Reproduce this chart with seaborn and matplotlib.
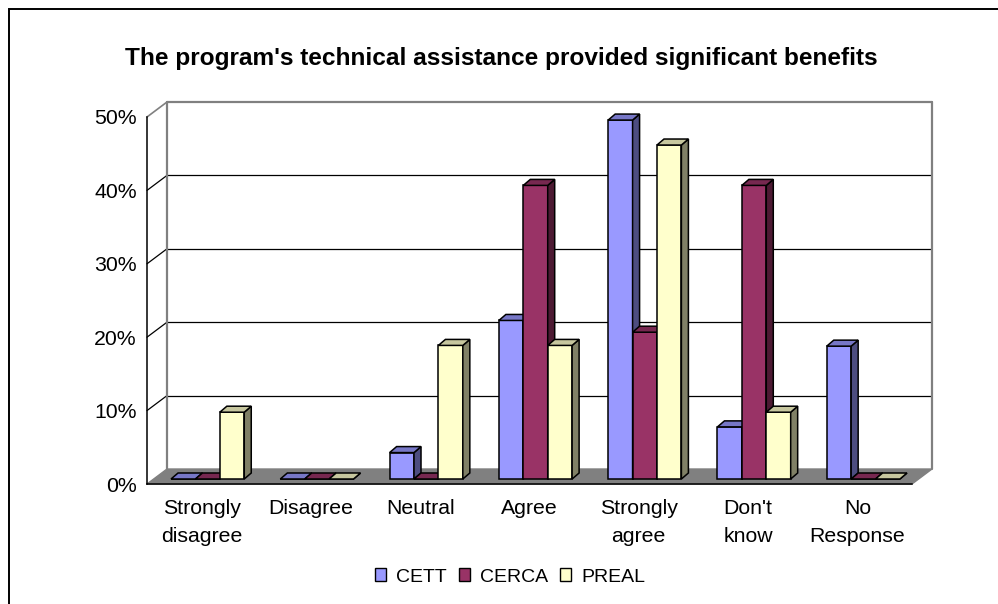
import numpy as np
import pandas as pd
import matplotlib
matplotlib.use("Agg")
import matplotlib.pyplot as plt
import seaborn as sns
from matplotlib.patches import Polygon, Rectangle, Patch
from matplotlib.transforms import offset_copy
from matplotlib.colors import to_rgb

# ---------------- data ----------------
categories = ["Strongly\ndisagree", "Disagree", "Neutral", "Agree",
              "Strongly\nagree", "Don't\nknow", "No\nResponse"]
series_names = ["CETT", "CERCA", "PREAL"]
cett = [0, 0, 3.6, 21.6, 48.9, 7.1, 18.1]
cerca = [0, 0, 0, 40.0, 20.0, 40.0, 0]
preal = [9.1, 0, 18.2, 18.2, 45.5, 9.1, 0]
y_ticks = [0, 10, 20, 30, 40, 50]
y_tick_labels = ["0%", "10%", "20%", "30%", "40%", "50%"]
title = "The program's technical assistance provided significant benefits"
colors = {"CETT": "#9999FF", "CERCA": "#993366", "PREAL": "#FFFFCC"}

df = pd.DataFrame({
    "category": categories * 3,
    "series": sum([[s] * len(categories) for s in series_names], []),
    "value": cett + cerca + preal,
})

# ---------------- figure ----------------
sns.set_style("white")
plt.rcParams["font.family"] = ["Liberation Sans", "DejaVu Sans"]
plt.rcParams["text.color"] = "black"
plt.rcParams["xtick.color"] = "black"
plt.rcParams["ytick.color"] = "black"
plt.rcParams["axes.labelcolor"] = "black"

W, H = 998, 604
fig = plt.figure(figsize=(W / 100, H / 100), dpi=100)
# front plane of the 3D box
L, R, B, T = 147, 912, 484, 117
ax = fig.add_axes([L / W, 1 - B / H, (R - L) / W, (B - T) / H])
ax.set_facecolor("none")

sns.barplot(data=df, x="category", y="value", hue="series", order=categories,
            hue_order=series_names, palette=colors, saturation=1, width=0.67, dodge=True,
            edgecolor="black", linewidth=1.1, legend=False, ax=ax, zorder=10)

ax.set_xlim(-0.5, len(categories) - 0.5)
ax.set_ylim(0, 50)

px_x = (R - L) / len(categories)   # px per category unit
px_y = (B - T) / 50.0              # px per percent

def dx(p):
    return p / px_x

def dy(p):
    return p / px_y

# back wall offset (in px) and bar plane offset
BDX, BDY = 20, 15
bar_tr = offset_copy(ax.transData, fig=fig, x=6, y=5, units="dots")

x_lo, x_hi = -0.5, len(categories) - 0.5
gray = "#808080"

# floor
floor = Polygon([(x_lo, 0), (x_hi, 0), (x_hi + dx(BDX), dy(BDY)), (x_lo + dx(BDX), dy(BDY))],
                closed=True, facecolor=gray, edgecolor=gray, lw=1, zorder=2, clip_on=False)
ax.add_patch(floor)

# back wall gridlines and side wall diagonals
for v in y_ticks[1:-1]:
    ax.plot([x_lo + dx(BDX), x_hi + dx(BDX)], [v + dy(BDY)] * 2, color="black", lw=0.9,
            zorder=3, clip_on=False, solid_capstyle="butt")
    ax.plot([x_lo, x_lo + dx(BDX)], [v, v + dy(BDY)], color="black", lw=0.9,
            zorder=3, clip_on=False)
top = y_ticks[-1]
ax.plot([x_lo + dx(BDX), x_hi + dx(BDX)], [top + dy(BDY)] * 2, color=gray, lw=1.6,
        zorder=3, clip_on=False)
ax.plot([x_lo, x_lo + dx(BDX)], [top, top + dy(BDY)], color=gray, lw=1.2, zorder=3, clip_on=False)
for xx in (x_lo + dx(BDX), x_hi + dx(BDX)):
    ax.plot([xx, xx], [dy(BDY), top + dy(BDY)], color=gray, lw=1.6, zorder=3, clip_on=False)

# 3D bars
bars = sorted([p for p in ax.patches if isinstance(p, Rectangle) and p is not floor],
              key=lambda p: p.get_x())
ddx, ddy = dx(7), dy(6)
for i, p in enumerate(bars):
    x0, w, h = p.get_x(), p.get_width(), p.get_height()
    base = to_rgb(p.get_facecolor())
    z = 10 + 3 * i
    p.set_transform(bar_tr)
    p.set_zorder(z)
    p.set_clip_on(False)
    side = Polygon([(x0 + w, 0), (x0 + w + ddx, ddy), (x0 + w + ddx, h + ddy), (x0 + w, h)],
                   closed=True, facecolor=tuple(np.array(base) * 0.5), edgecolor="black",
                   lw=1.1, transform=bar_tr, zorder=z + 1, clip_on=False)
    topf = Polygon([(x0, h), (x0 + ddx, h + ddy), (x0 + w + ddx, h + ddy), (x0 + w, h)],
                   closed=True, facecolor=tuple(np.array(base) * 0.78), edgecolor="black",
                   lw=1.1, transform=bar_tr, zorder=z + 2, clip_on=False)
    ax.add_patch(side)
    ax.add_patch(topf)

# axes styling
for s in ("top", "right"):
    ax.spines[s].set_visible(False)
for s in ("left", "bottom"):
    ax.spines[s].set_color("black")
    ax.spines[s].set_linewidth(1.1)
    ax.spines[s].set_zorder(5)
ax.set_yticks(y_ticks)
ax.set_yticklabels(y_tick_labels, fontsize=15.3)
ax.set_xticks(np.arange(len(categories) + 1) - 0.5)
ax.set_xticklabels([])
ax.set_xticks(np.arange(len(categories)), minor=True)
ax.set_xticklabels(categories, minor=True, fontsize=15.3, linespacing=1.6)
ax.tick_params(axis="y", direction="out", length=6 * 0.72, width=1, color="black", pad=3,
               labelcolor="black")
ax.tick_params(axis="x", which="major", direction="out", length=6 * 0.72, width=1, color="black")
ax.tick_params(axis="x", which="minor", length=0, pad=11, labelcolor="black")
ax.set_xlabel("")
ax.set_ylabel("")
ax.grid(False)

# title
fig.text(0.5 + 2 / W, 1 - 58 / H, title, ha="center", va="center", fontsize=17.6,
         fontweight="bold", color="black")

# legend
handles = [Patch(facecolor=colors[s], edgecolor="black", linewidth=1.0, label=s)
           for s in series_names]
leg = fig.legend(handles=handles, loc="center", bbox_to_anchor=(510 / W, 1 - 577 / H), ncol=3,
                 frameon=False, fontsize=14.0, handlelength=0.6, handleheight=0.6,
                 handletextpad=0.5, columnspacing=0.6, borderpad=0)
for t in leg.get_texts():
    t.set_color("black")

# outer border
fig.patches.append(Rectangle((9 / W, -0.1), 2, 1 - 9 / H + 0.1, transform=fig.transFigure,
                             fill=False, edgecolor="black", lw=1.4))

fig.savefig("out.png", dpi=100)
